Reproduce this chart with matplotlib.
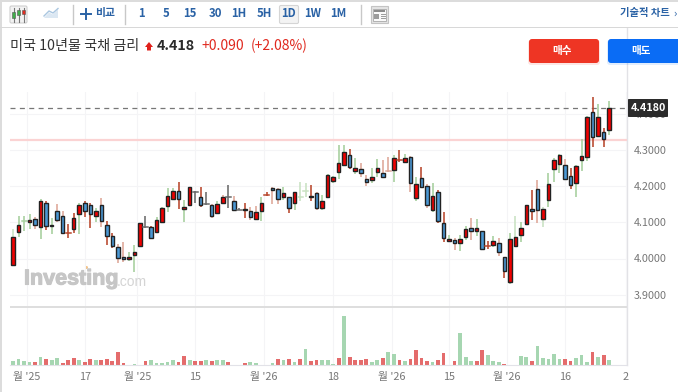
import numpy as np
import matplotlib
matplotlib.use("Agg")
import matplotlib.pyplot as plt
import matplotlib.patheffects as pe
from matplotlib.patches import FancyBboxPatch, Rectangle, Polygon

plt.rcParams['font.family'] = ['Noto Sans CJK KR', 'DejaVu Sans']

opens = [3.982, 4.074, 4.104, 4.102, 4.109, 4.086, 4.155, 4.093, 4.131, 4.119,
         4.070, 4.083, 4.124, 4.153, 4.147, 4.117, 4.147, 4.092, 4.061, 4.031,
         4.005, 4.000, 4.009, 4.034, 4.088, 4.088, 4.073, 4.100, 4.145, 4.166,
         4.188, 4.136, 4.148, 4.185, 4.171, 4.151, 4.149, 4.127, 4.153, 4.171,
         4.158, 4.135, 4.136, 4.132, 4.110, 4.132, 4.176, 4.195, 4.192, 4.171,
         4.170, 4.154, 4.171, 4.188, 4.174, 4.181, 4.139, 4.170, 4.214, 4.239,
         4.258, 4.288, 4.241, 4.247, 4.219, 4.217, 4.239, 4.236, 4.241, 4.244,
         4.273, 4.268, 4.280, 4.168, 4.224, 4.200, 4.135, 4.185, 4.098, 4.049,
         4.051, 4.044, 4.059, 4.084, 4.075, 4.075, 4.036, 4.037, 4.044, 4.003,
         3.934, 4.035, 4.064, 4.096, 4.136, 4.192, 4.110, 4.161, 4.247, 4.262,
         4.260, 4.229, 4.208, 4.273, 4.280, 4.407, 4.339, 4.351, 4.356]
closes = [4.059, 4.093, 4.104, 4.107, 4.092, 4.158, 4.091, 4.090, 4.108, 4.070,
          4.070, 4.111, 4.149, 4.132, 4.122, 4.131, 4.105, 4.063, 4.036, 4.002,
          3.999, 4.004, 4.019, 4.097, 4.088, 4.058, 4.108, 4.139, 4.172, 4.187,
          4.165, 4.142, 4.197, 4.185, 4.149, 4.151, 4.117, 4.150, 4.171, 4.171,
          4.134, 4.135, 4.134, 4.116, 4.129, 4.153, 4.176, 4.190, 4.164, 4.181,
          4.139, 4.183, 4.171, 4.188, 4.171, 4.141, 4.160, 4.231, 4.225, 4.264,
          4.295, 4.254, 4.251, 4.238, 4.211, 4.225, 4.251, 4.227, 4.241, 4.278,
          4.273, 4.278, 4.210, 4.207, 4.197, 4.147, 4.173, 4.105, 4.056, 4.053,
          4.043, 4.053, 4.083, 4.075, 4.085, 4.027, 4.036, 4.049, 4.017, 3.964,
          4.053, 4.059, 4.084, 4.147, 4.132, 4.134, 4.136, 4.207, 4.272, 4.286,
          4.220, 4.203, 4.257, 4.283, 4.392, 4.337, 4.392, 4.330, 4.418]
highs = [4.083, 4.118, 4.118, 4.123, 4.116, 4.165, 4.159, 4.111, 4.150, 4.132,
         4.095, 4.125, 4.153, 4.159, 4.153, 4.141, 4.168, 4.104, 4.071, 4.040,
         4.046, 4.019, 4.037, 4.099, 4.118, 4.090, 4.116, 4.142, 4.194, 4.194,
         4.211, 4.162, 4.199, 4.188, 4.197, 4.184, 4.151, 4.158, 4.175, 4.204,
         4.173, 4.139, 4.155, 4.142, 4.146, 4.171, 4.183, 4.197, 4.195, 4.198,
         4.171, 4.185, 4.213, 4.208, 4.204, 4.183, 4.176, 4.234, 4.229, 4.315,
         4.315, 4.303, 4.279, 4.264, 4.230, 4.250, 4.275, 4.273, 4.280, 4.287,
         4.301, 4.290, 4.284, 4.227, 4.253, 4.206, 4.208, 4.190, 4.128, 4.065,
         4.056, 4.065, 4.090, 4.111, 4.109, 4.077, 4.049, 4.062, 4.056, 4.005,
         4.070, 4.118, 4.100, 4.148, 4.190, 4.218, 4.142, 4.236, 4.278, 4.290,
         4.275, 4.250, 4.259, 4.330, 4.395, 4.448, 4.428, 4.361, 4.435]
lows = [3.979, 4.060, 4.076, 4.083, 4.081, 4.054, 4.079, 4.068, 4.102, 4.068,
        4.057, 4.070, 4.068, 4.116, 4.085, 4.102, 4.086, 4.037, 4.028, 3.988,
        3.991, 3.994, 3.963, 4.031, 4.085, 4.053, 4.071, 4.099, 4.130, 4.164,
        4.137, 4.102, 4.147, 4.153, 4.144, 4.148, 4.111, 4.123, 4.151, 4.141,
        4.133, 4.133, 4.111, 4.107, 4.107, 4.105, 4.174, 4.150, 4.150, 4.162,
        4.125, 4.133, 4.158, 4.171, 4.158, 4.133, 4.133, 4.167, 4.210, 4.220,
        4.256, 4.247, 4.233, 4.227, 4.202, 4.208, 4.226, 4.225, 4.239, 4.213,
        4.266, 4.264, 4.183, 4.158, 4.195, 4.139, 4.128, 4.099, 4.047, 4.047,
        4.024, 4.022, 4.051, 4.051, 4.061, 4.024, 4.026, 4.033, 4.008, 3.945,
        3.930, 4.033, 4.045, 4.094, 4.107, 4.098, 4.088, 4.142, 4.211, 4.236,
        4.218, 4.192, 4.171, 4.241, 4.270, 4.308, 4.338, 4.308, 4.342]
wick_kinds = ("lgggsgdgss" "ddgddgsdds" "sggkkdgggg" "dggkdksgsk" "skdssgdssg"
              "dglldsgggg" "gdgssggssg" "dgsgdsgddg" "sggsgsdgsd" "glggdslggg"
              "sdgggdgdg")
volumes = [13, 18, 11, 8, 10, 24, 19, 14, 21, 5, 15, 21, 14, 10, 19, 15, 15, 19, 11, 38,
           6, 0, 2, 0, 11, 16, 7, 7, 9, 15, 10, 27, 14, 11, 11, 14, 13, 14, 15, 8,
           0, 0, 5, 8, 5, 0, 1, 7, 19, 15, 19, 10, 18, 47, 11, 14, 16, 16, 2, 21,
           148, 23, 15, 15, 18, 10, 15, 20, 40, 32, 15, 13, 18, 45, 20, 11, 10, 15, 37, 0,
           13, 95, 23, 13, 13, 45, 29, 13, 10, 2, 0, 0, 26, 23, 13, 58, 20, 18, 34, 18,
           18, 13, 20, 29, 10, 40, 25, 29, 15]
vol_up = ("ggggrgrggr" "rrgrrgrrrr" "rggrrggggg" "rrgrrgrggr" "ggrgggrgrg"
          "rgrgrrgggr" "grrrrggrgg" "rgrrrrgrrg" "rgggrrgggr" "rgggrggggg"
          "rrgggrgrg")
price_ticks = [3.9, 4.0, 4.1, 4.2, 4.3, 4.4]
date_pos = [2.5, 13, 22.5, 33, 45.4, 58, 68.6, 79, 89.5, 100, 111]
date_labels = ["월 '25", "17", "월 '25", "15", "월 '26", "18", "월 '26", "15", "월 '26", "16", "2"]
last_price = 4.418
ref_price = 4.328

W, H = 678, 392
fig = plt.figure(figsize=(W / 100, H / 100), dpi=100, facecolor="white")


def px_axes(left, top, right, bottom, **kw):
    return fig.add_axes([left / W, 1 - bottom / H, (right - left) / W, (bottom - top) / H], **kw)


# page chrome is drawn in pixel coordinates
bg = px_axes(0, 0, W, H)
bg.set_xlim(0, W)
bg.set_ylim(H, 0)
bg.axis("off")

BLUE = "#2a62a5"
bg.add_patch(Rectangle((0, 0), 1.5, H, color="#dcdcdc", lw=0))
bg.add_patch(Rectangle((0, 0), W, 1.5, color="#dcdcdc", lw=0))
bg.add_patch(Rectangle((0, 26.7), W, 1.2, color="#d8d8d8", lw=0))
for x in [72.5, 124.5, 360.5]:
    bg.plot([x, x], [5, 24], color="#c8c8c8", lw=1)

# candle icon
bg.add_patch(FancyBboxPatch((10, 6), 17, 17, boxstyle="round,pad=0,rounding_size=1.5",
                            fc="#f2f2f2", ec="#cfcfcf", lw=0.8))
for x, c, t, b in [(13.5, "#3fae49", 12, 18), (18.5, "#3fae49", 10, 15), (23.5, "#e02b20", 9.5, 14)]:
    bg.plot([x, x], [7.5, 21.5], color="#777777", lw=0.8)
    bg.add_patch(Rectangle((x - 1.5, t), 3, b - t, fc=c, ec="#555555", lw=0.4, zorder=3))
# area icon
bg.add_patch(Polygon([(44, 18), (49, 12.5), (53, 14.5), (58, 9.5), (58, 18)], fc="#dbe7f2", ec="none"))
bg.plot([44, 49, 53, 58], [16, 11, 13, 8.5], color="#a9c6e0", lw=1)

bg.plot([81, 91], [14, 14], color=BLUE, lw=1.4)
bg.plot([86, 86], [9, 19], color=BLUE, lw=1.4)
bg.text(105.5, 13, "비교", color=BLUE, fontsize=7.8, fontweight="bold", ha="center", va="center")

bg.add_patch(FancyBboxPatch((279.5, 5.5), 19, 18, boxstyle="round,pad=0,rounding_size=1.5",
                            fc="#f3f3f3", ec="#d5d5d5", lw=0.8))
for x, s in zip([141, 166, 190, 215, 239, 264, 289, 313, 338],
                ["1", "5", "15", "30", "1H", "5H", "1D", "1W", "1M"]):
    bg.text(x, 13.5, s, color=BLUE, fontsize=8.2, fontweight="bold", ha="center", va="center")

# news icon
bg.add_patch(Rectangle((371, 6), 17, 17, fc="#e4e4e4", ec="#c4c4c4", lw=0.8))
bg.add_patch(Rectangle((373, 8.5), 13, 12, fc="#fafafa", ec="#a8a8a8", lw=0.6))
bg.add_patch(Rectangle((374, 10), 11, 2, fc="#8c8c8c", lw=0))
bg.add_patch(Rectangle((374, 13.5), 5, 5.5, fc="#9c9c9c", lw=0))
for y in [14, 16, 18]:
    bg.plot([380.5, 385], [y, y], color="#9c9c9c", lw=0.7)

bg.text(644.5, 13, "기술적 차트", color=BLUE, fontsize=7.4, fontweight="bold", ha="center", va="center")
bg.text(675, 13.5, "›", color=BLUE, fontsize=8, ha="center", va="center")

# title row
bg.text(10, 45.5, "미국 10년물 국채 금리", color="#333333", fontsize=10.2, ha="left", va="center")
bg.add_patch(Polygon([(145, 47), (149, 42), (153, 47), (151, 47), (151, 50.5), (147, 50.5), (147, 47)],
                     fc="#e0201b", ec="none"))
bg.text(157, 46, "4.418", color="#2b2b2b", fontsize=10.4, fontweight="bold", ha="left", va="center")
bg.text(201, 45.5, "+0.090", color="#e0281e", fontsize=10, fontweight="medium", ha="left", va="center")
bg.text(251, 45.5, "(+2.08%)", color="#e0281e", fontsize=10, fontweight="medium", ha="left", va="center")

# buy / sell buttons
for x0, x1, col, s in [(529, 599, "#ee3524", "매수"), (608, 690, "#0a6cf5", "매도")]:
    bg.add_patch(FancyBboxPatch((x0 - 1, 40), x1 - x0 + 2, 25, boxstyle="round,pad=0,rounding_size=3",
                                fc=col, ec="none", alpha=0.12))
    bg.add_patch(FancyBboxPatch((x0, 39), x1 - x0, 24, boxstyle="round,pad=0,rounding_size=3",
                                fc=col, ec="none"))
bg.text(562.5, 51, "매수", color="white", fontsize=7.6, fontweight="bold", ha="center", va="center")
bg.text(641.5, 51, "매도", color="white", fontsize=7.6, fontweight="bold", ha="center", va="center")

# price panel
X0, X1 = 10, 627
xlim = ((X0 - 13) / 5.52, (X1 - 13) / 5.52)
ax = px_axes(X0, 92, X1, 306)
ax.patch.set_alpha(0)
ax.set_xlim(*xlim)
ax.set_ylim(4.0 + (258.5 - 306) / 361, 4.0 + (258.5 - 92) / 361)
for s in ax.spines.values():
    s.set_visible(False)
ax.tick_params(length=0, labelbottom=False)
ax.yaxis.tick_right()
ax.set_xticks(date_pos)
ax.set_yticks(price_ticks)
ax.set_yticklabels(["%.4f" % v for v in price_ticks], color="#777777", fontsize=7.8)
ax.tick_params(axis="y", pad=5)
ax.grid(color="#f4f4f6", lw=0.8)
ax.set_axisbelow(True)

ax.axhline(ref_price, color="#fbd3d3", lw=1.6, zorder=1)
ax.axhline(last_price, color="#777777", lw=0.9, dashes=(4, 3.5), zorder=1)

wick_cols = {"g": "#a5cf9d", "l": "#c9e2c2", "s": "#dea697", "d": "#b8462c", "k": "#6a6a6a"}
xs = np.arange(len(opens))
for i in xs:
    ax.plot([i, i], [lows[i], highs[i]], color=wick_cols[wick_kinds[i]], lw=1.15,
            solid_capstyle="butt", zorder=2)
    o, c = opens[i], closes[i]
    if abs(o - c) < 0.0005:
        ax.plot([i - 0.45, i + 0.45], [o, o], color=wick_cols[wick_kinds[i]], lw=1.1, zorder=3)
        continue
    ax.bar(i, abs(c - o), bottom=min(o, c), width=0.64, color="#f00000" if c > o else "#4b98d4",
           edgecolor="#222222", linewidth=1.0, zorder=3)

# watermark
ax.text(24, 279, "Investing", transform=bg.transData, color="#c6c6c6", fontsize=15.5,
        family="Liberation Sans", fontweight="bold", ha="left", va="center", zorder=4,
        path_effects=[pe.withStroke(linewidth=0.8, foreground="#c6c6c6")])
ax.text(117, 281.5, ".com", transform=bg.transData, color="#d4d4d4", fontsize=10,
        family="Liberation Sans", ha="left", va="center", zorder=4)
bg.plot([85.5], [267], marker="o", ms=2.2, color="#f3c48a", mew=0, zorder=5)

# right axis line and last price tag
bg.plot([X1 - 0.5, X1 - 0.5], [28, 365], color="#e2e2e6", lw=1, zorder=0)
tag = px_axes(628, 99, 668, 117)
tag.set_xlim(0, 1)
tag.set_ylim(0, 1)
tag.axis("off")
tag.add_patch(FancyBboxPatch((0, 0), 1, 1, boxstyle="round,pad=0,rounding_size=0.05",
                             fc="#2b2b2b", ec="none", mutation_aspect=0.4))
tag.text(0.5, 0.48, "%.4f" % last_price, color="white", fontsize=7.8, fontweight="bold",
         ha="center", va="center")

# separator and volume panel
bg.add_patch(Rectangle((X0, 306), X1 - X0, 2, color="#dedede", lw=0))
vol = px_axes(X0, 308, X1, 365)
vol.patch.set_alpha(0)
vol.set_xlim(*xlim)
vol.set_ylim(0, 57 * 3)
for s in ["top", "left", "right"]:
    vol.spines[s].set_visible(False)
vol.spines["bottom"].set_color("#e2e2e8")
vol.set_yticks([])
vol.set_xticks(date_pos)
vol.set_xticklabels(date_labels, color="#777777", fontsize=7.8)
vol.tick_params(axis="x", length=0, pad=5)
vol.grid(axis="x", color="#f4f4f6", lw=0.8)
vol.set_axisbelow(True)
vol_cols = ["#e46c6c" if f == "r" else "#a6d6b1" for f in vol_up]
vol.bar(xs, volumes, width=0.68, color=vol_cols, linewidth=0, zorder=2)

fig.savefig("out.png", dpi=100)
